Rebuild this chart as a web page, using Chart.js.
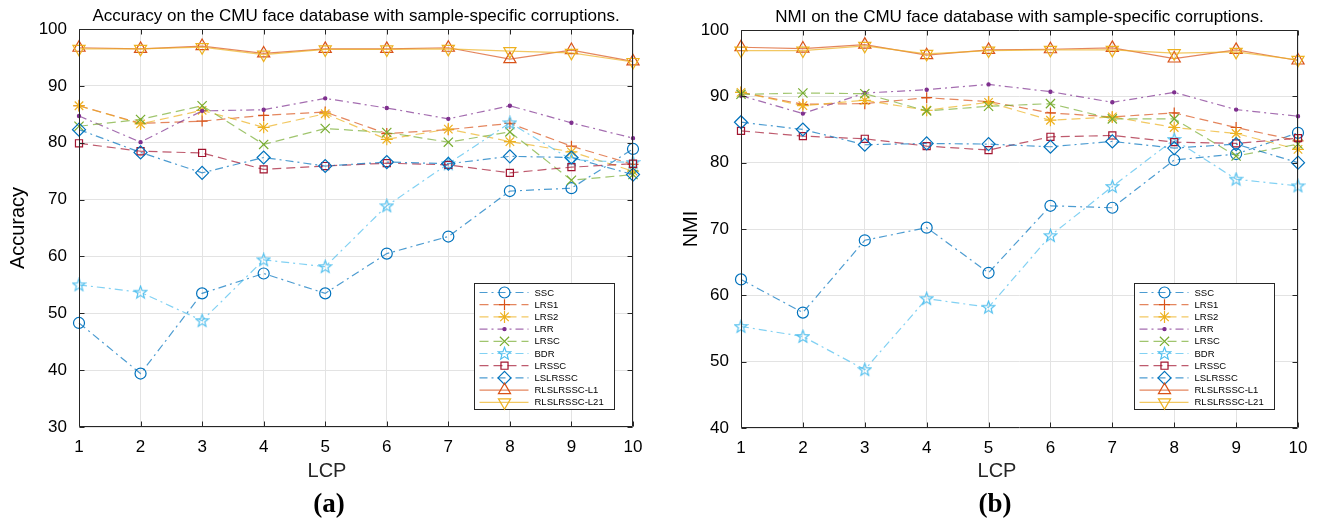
<!DOCTYPE html>
<html lang="en">
<head>
<meta charset="UTF-8">
<title>CMU face - LCP</title>
<script src="https://cdn.jsdelivr.net/npm/chart.js"></script>
<style>
  body { margin: 0; background: #fff; width: 1320px; height: 519px; position: relative; overflow: hidden;
         font-family: "Liberation Sans", Arial, sans-serif; color: #262626; }
  .painel { position: absolute; top: 0; width: 660px; height: 519px; }
  .xlabel { position: absolute; font-size: 20px; line-height: 24px; transform: translateX(-50%); }
  .letra { position: absolute; font-family: "Liberation Serif", "Times New Roman", serif; font-weight: bold;
           font-size: 27px; line-height: 30px; color: #000; transform: translateX(-50%); }
</style>
</head>
<body>
  <div class="painel" style="left:0"><canvas id="graficoAcc" width="660" height="519"></canvas></div>
  <div class="painel" style="left:660px"><canvas id="graficoNmi" width="660" height="519"></canvas></div>

  <div class="xlabel" style="left:327px; top:458px">LCP</div>
  <div class="letra" style="left:329px; top:488px">(a)</div>
  <div class="xlabel" style="left:997px; top:458px">LCP</div>
  <div class="letra" style="left:995px; top:488px">(b)</div>

<script>
const lcp = ['1', '2', '3', '4', '5', '6', '7', '8', '9', '10'];
const metodos = ['SSC', 'LRS1', 'LRS2', 'LRR', 'LRSC', 'BDR', 'LRSSC', 'LSLRSSC', 'RLSLRSSC-L1', 'RLSLRSSC-L21'];

// accuracy (a)
const accSSC     = [48.3, 39.4, 53.5, 57.0, 53.5, 60.5, 63.5, 71.5, 72.0, 78.9];
const accLRS1    = [86.5, 83.4, 83.8, 84.8, 85.4, 81.6, 82.3, 83.4, 79.4, 76.2];
const accLRS2    = [86.5, 83.3, 85.7, 82.7, 85.1, 80.6, 82.4, 80.2, 78.4, 75.0];
const accLRR     = [84.7, 80.1, 85.6, 85.8, 87.8, 86.1, 84.2, 86.5, 83.5, 80.8];
const accLRSC    = [82.9, 84.1, 86.5, 79.7, 82.5, 81.8, 80.1, 81.9, 73.4, 74.4];
const accBDR     = [55.0, 53.7, 48.7, 59.4, 58.2, 68.9, 76.3, 83.5, 77.0, 76.5];
const accLRSSC   = [79.9, 78.5, 78.2, 75.3, 75.9, 76.4, 76.1, 74.7, 75.7, 76.3];
const accLSLRSSC = [82.3, 78.3, 74.7, 77.4, 75.9, 76.6, 76.3, 77.6, 77.4, 74.4];
const accL1      = [96.7, 96.5, 97.0, 95.7, 96.5, 96.5, 96.7, 94.7, 96.3, 94.3];
const accL21     = [96.5, 96.5, 96.8, 95.5, 96.4, 96.4, 96.5, 96.1, 95.8, 94.2];

// NMI (b)
const nmiSSC     = [62.4, 57.4, 68.3, 70.2, 63.4, 73.5, 73.2, 80.4, 81.3, 84.5];
const nmiLRS1    = [90.6, 88.8, 88.9, 89.8, 89.2, 87.5, 86.9, 87.5, 85.3, 83.3];
const nmiLRS2    = [90.6, 88.6, 89.4, 87.9, 89.1, 86.4, 86.9, 85.3, 84.4, 82.0];
const nmiLRR     = [90.1, 87.4, 90.5, 91.0, 91.8, 90.7, 89.1, 90.6, 88.0, 87.0];
const nmiLRSC    = [90.3, 90.5, 90.4, 87.8, 88.5, 88.9, 86.6, 86.6, 81.0, 82.8];
const nmiBDR     = [55.3, 53.8, 48.8, 59.5, 58.2, 69.0, 76.4, 83.5, 77.5, 76.5];
const nmiLRSSC   = [84.8, 84.0, 83.6, 82.5, 81.9, 83.9, 84.1, 83.1, 82.9, 83.7];
const nmiLSLRSSC = [86.1, 85.0, 82.7, 82.9, 82.8, 82.4, 83.2, 82.2, 82.8, 80.0];
const nmiL1      = [97.4, 97.2, 97.8, 96.2, 97.0, 97.1, 97.3, 95.7, 97.0, 95.4];
const nmiL21     = [96.9, 96.9, 97.6, 96.4, 96.9, 97.0, 97.0, 96.5, 96.7, 95.5];

const ticksAcc = [30, 40, 50, 60, 70, 80, 90, 100];
const ticksNmi = [40, 50, 60, 70, 80, 90, 100];

Chart.defaults.font.family = '"Liberation Sans", Arial, Helvetica, sans-serif';
Chart.defaults.color = '#262626';

// pentagrama do BDR (nao existe no Chart.js)
function pentagrama(cor) {
  const c = document.createElement('canvas');
  c.width = 15; c.height = 15;
  const g = c.getContext('2d');
  g.strokeStyle = cor; g.lineWidth = 1.1;
  g.beginPath();
  for (let k = 0; k < 10; k++) {
    const r = k % 2 ? 2.7 : 6.6, ang = -Math.PI / 2 + k * Math.PI / 5;
    const px = 7.5 + r * Math.cos(ang), py = 7.9 + r * Math.sin(ang);
    if (k) g.lineTo(px, py); else g.moveTo(px, py);
  }
  g.closePath(); g.stroke();
  return c;
}

const tracoPonto = [8, 4, 2, 4];
const tracejado = [9, 5];
const estilos = [
  { cor: '0,114,189',  traco: tracoPonto, ponto: 'circle',   raio: 5.5 },
  { cor: '217,83,25',  traco: tracejado,  ponto: 'cross',    raio: 5.5 },
  { cor: '237,177,32', traco: tracejado,  ponto: 'star',     raio: 6 },
  { cor: '126,47,142', traco: tracoPonto, ponto: 'circle',   raio: 1.6, cheio: true },
  { cor: '119,172,48', traco: tracejado,  ponto: 'crossRot', raio: 6.5 },
  { cor: '77,190,238', traco: tracoPonto, ponto: pentagrama('rgb(77,190,238)'), raio: 7 },
  { cor: '162,20,47',  traco: tracejado,  ponto: 'rect',     raio: 5 },
  { cor: '0,114,189',  traco: tracoPonto, ponto: 'rectRot',  raio: 6.5 },
  { cor: '217,83,25',  traco: [],         ponto: 'triangle', raio: 7 },
  { cor: '237,177,32', traco: [],         ponto: 'triangle', raio: 7, rot: 180 }
];

function montar(series) {
  return series.map((valores, i) => {
    const e = estilos[i];
    return {
      label: metodos[i],
      data: valores,
      borderColor: 'rgba(' + e.cor + ',0.7)',
      borderWidth: 1.2,
      borderDash: e.traco,
      pointStyle: e.ponto,
      pointRadius: e.raio,
      pointRotation: e.rot || 0,
      pointBorderColor: 'rgb(' + e.cor + ')',
      pointBackgroundColor: e.cheio ? 'rgb(' + e.cor + ')' : 'rgba(0,0,0,0)',
      pointBorderWidth: 1.2,
      tension: 0,
      clip: false,
      order: -i
    };
  });
}

// caixa do matlab: moldura, ticks para dentro e legenda
const moldura = {
  id: 'moldura',
  afterDatasetsDraw(chart, args, opts) {
    const { ctx, chartArea: a, scales: { x, y } } = chart;
    const L = Math.round(a.left) + 0.5, R = Math.round(a.right) - 0.5;
    const T = Math.round(a.top) + 0.5, B = Math.round(a.bottom) - 0.5;
    ctx.save();
    ctx.strokeStyle = '#262626';
    ctx.lineWidth = 1;
    ctx.setLineDash([]);
    ctx.beginPath();
    ctx.rect(L, T, R - L, B - T);
    x.ticks.forEach((t, i) => {
      const px = Math.round(x.getPixelForTick(i)) + 0.5;
      ctx.moveTo(px, B); ctx.lineTo(px, B - 5);
      ctx.moveTo(px, T); ctx.lineTo(px, T + 5);
    });
    y.ticks.forEach((t) => {
      const py = Math.round(y.getPixelForValue(t.value)) + 0.5;
      ctx.moveTo(L, py); ctx.lineTo(L + 5, py);
      ctx.moveTo(R, py); ctx.lineTo(R - 5, py);
    });
    ctx.stroke();

    const larg = 140, alt = 126, passo = 12.2;
    const x0 = Math.round(a.right - opts.direita - larg) + 0.5;
    const y0 = Math.round(a.bottom - opts.baixo - alt) + 0.5;
    ctx.fillStyle = '#fff';
    ctx.fillRect(x0, y0, larg, alt);
    ctx.strokeStyle = '#262626';
    ctx.strokeRect(x0, y0, larg, alt);
    ctx.font = '9.5px "Liberation Sans", Arial, sans-serif';
    ctx.textBaseline = 'middle';
    chart.data.datasets.forEach((ds, i) => {
      const cy = y0 + 9 + i * passo;
      ctx.strokeStyle = ds.borderColor;
      ctx.lineWidth = ds.borderWidth;
      ctx.setLineDash(ds.borderDash);
      ctx.beginPath(); ctx.moveTo(x0 + 5, cy); ctx.lineTo(x0 + 54, cy); ctx.stroke();
      ctx.setLineDash([]);
      ctx.strokeStyle = ds.pointBorderColor;
      ctx.fillStyle = ds.pointBackgroundColor;
      ctx.lineWidth = ds.pointBorderWidth;
      Chart.helpers.drawPoint(ctx, {
        pointStyle: ds.pointStyle, radius: ds.pointRadius,
        rotation: ds.pointRotation, borderWidth: ds.pointBorderWidth
      }, x0 + 30, cy);
      ctx.fillStyle = '#000';
      ctx.fillText(ds.label, x0 + 60, cy + 0.5);
    });
    ctx.restore();
  }
};

function opcoes(titulo, nomeY, ticksY, larguraY, tituloPadY, padDireita, topo, altX, leg) {
  return {
    responsive: false,
    animation: false,
    layout: { padding: { left: 0, right: padDireita, top: 0, bottom: 0 } },
    plugins: {
      legend: { display: false },
      tooltip: { enabled: false },
      title: {
        display: true, text: titulo, fullSize: false, color: '#000',
        font: { size: 17, weight: 'normal' }, padding: { top: topo, bottom: 2.6 }
      },
      moldura: leg
    },
    scales: {
      x: {
        type: 'category', labels: lcp, offset: false,
        grid: { color: '#e3e3e3', drawTicks: false },
        border: { display: false },
        ticks: { font: { size: 17 }, color: '#000', padding: 10, maxRotation: 0, autoSkip: false },
        afterFit(s) { s.height = altX; }
      },
      y: {
        min: ticksY[0], max: ticksY[ticksY.length - 1],
        afterBuildTicks(s) { s.ticks = ticksY.map(v => ({ value: v })); },
        grid: { color: '#e3e3e3', drawTicks: false },
        border: { display: false },
        ticks: { font: { size: 17 }, color: '#000', padding: 12 },
        title: { display: true, text: nomeY, color: '#000', font: { size: 20 }, padding: { top: tituloPadY, bottom: 0 } },
        afterFit(s) { s.width = larguraY; }
      }
    }
  };
}

new Chart(document.getElementById('graficoAcc'), {
  type: 'line',
  data: { labels: lcp, datasets: montar([accSSC, accLRS1, accLRS2, accLRR, accLRSC, accBDR, accLRSSC, accLSLRSSC, accL1, accL21]) },
  options: opcoes('Accuracy on the CMU face database with sample-specific corruptions.', 'Accuracy',
    ticksAcc, 79, 6, 27, 6, 92, { direita: 19, baixo: 18 }),
  plugins: [moldura]
});

new Chart(document.getElementById('graficoNmi'), {
  type: 'line',
  data: { labels: lcp, datasets: montar([nmiSSC, nmiLRS1, nmiLRS2, nmiLRR, nmiLRSC, nmiBDR, nmiLRSSC, nmiLSLRSSC, nmiL1, nmiL21]) },
  options: opcoes('NMI on the CMU face database with sample-specific corruptions.', 'NMI',
    ticksNmi, 81, 19, 22, 7, 91, { direita: 24, baixo: 19 }),
  plugins: [moldura]
});
</script>
</body>
</html>
